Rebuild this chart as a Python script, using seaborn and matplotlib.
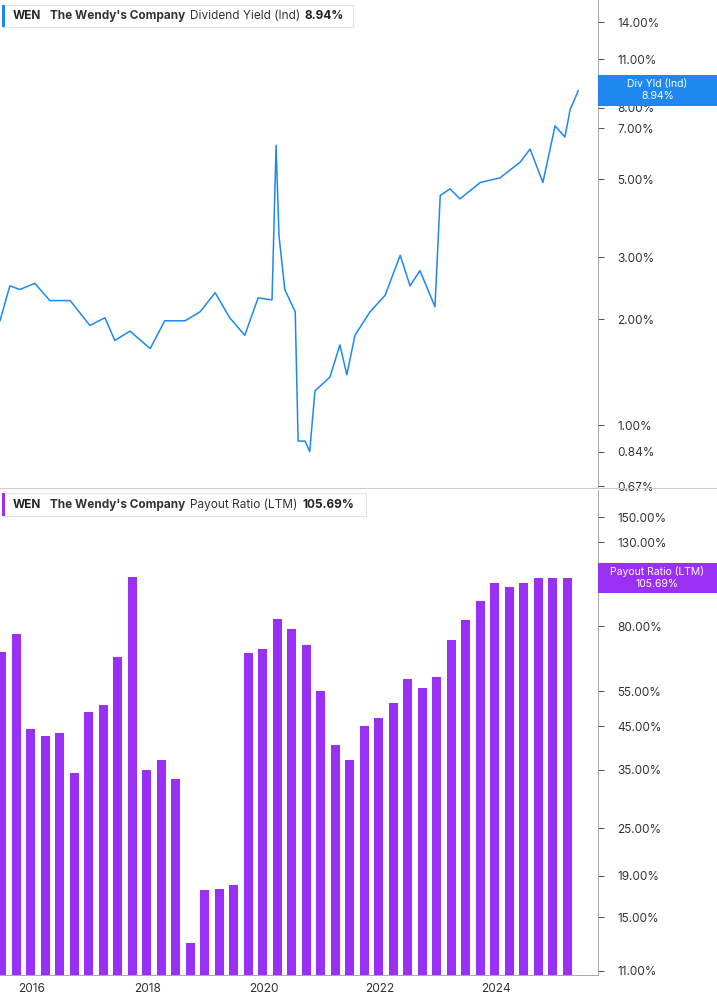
import matplotlib.pyplot as plt
import numpy as np
import pandas as pd
import seaborn as sns
import matplotlib as mpl
mpl.rcParams['font.family'] = 'Inter'

# dividend yield (%), dates as decimal years
yld_year = [2015.45, 2015.62, 2015.79, 2016.05, 2016.31, 2016.66, 2017.00, 2017.26, 2017.43,
            2017.69, 2018.04, 2018.29, 2018.64, 2018.90, 2019.16, 2019.41, 2019.67, 2019.90,
            2020.14, 2020.21, 2020.26, 2020.36, 2020.54, 2020.59, 2020.71, 2020.79, 2020.88,
            2021.14, 2021.31, 2021.43, 2021.57, 2021.83, 2022.09, 2022.35, 2022.52, 2022.69,
            2022.95, 2023.04, 2023.21, 2023.38, 2023.73, 2024.07, 2024.42, 2024.59, 2024.81,
            2025.02, 2025.19, 2025.28, 2025.42]
yld_val = [1.98, 2.49, 2.43, 2.53, 2.26, 2.26, 1.92, 2.02, 1.74,
           1.85, 1.65, 1.98, 1.98, 2.10, 2.38, 2.02, 1.80, 2.30,
           2.27, 6.25, 3.46, 2.43, 2.10, 0.90, 0.90, 0.84, 1.25,
           1.37, 1.69, 1.39, 1.80, 2.10, 2.34, 3.04, 2.49, 2.75,
           2.17, 4.50, 4.70, 4.40, 4.90, 5.05, 5.60, 6.10, 4.90,
           7.10, 6.60, 7.90, 8.94]

# payout ratio (LTM, %) quarterly
pay_year = [2015.48 + 0.25 * i for i in range(40)]
pay_val = [68.9, 76.5, 44.3, 42.5, 43.3, 34.2, 48.8, 50.9, 67.0, 106.0,
           34.9, 37.0, 33.2, 12.8, 17.4, 17.5, 17.9, 68.6, 70.2, 83.4,
           78.7, 71.8, 55.1, 40.2, 37.0, 45.0, 47.2, 51.4, 59.0, 56.0,
           59.7, 73.9, 82.9, 92.5, 102.6, 100.2, 102.6, 105.5, 105.3, 105.69]

top_ticks = [0.67, 0.84, 1.00, 2.00, 3.00, 5.00, 7.00, 8.00, 11.00, 14.00]
bot_ticks = [11, 15, 19, 25, 35, 45, 55, 80, 130, 150]
x_ticks = [2016, 2018, 2020, 2022, 2024]

blue = '#1E88F0'
purple = '#9B30F5'

fig = plt.figure(figsize=(7.17, 10.05), dpi=100)
ax1 = fig.add_axes([0, 0.514, 0.834, 0.486])
ax2 = fig.add_axes([0, 0.030, 0.834, 0.482])

yld = pd.DataFrame({'year': yld_year, 'val': yld_val})
sns.lineplot(data=yld, x='year', y='val', ax=ax1, color=blue, lw=1.1)
ax1.set_yscale('log')
ax1.set_ylim(0.66, 16.2)

pay = pd.DataFrame({'year': pay_year, 'val': pay_val})
ax2.bar(pay['year'], pay['val'], width=0.155, color=purple, bottom=0.1)
sns.despine(ax=ax2)
ax2.set_yscale('log')
ax2.set_ylim(10.75, 175)

for ax, ticks in [(ax1, top_ticks), (ax2, bot_ticks)]:
    ax.set_xlim(2015.45, 2025.76)
    ax.yaxis.tick_right()
    ax.set_yticks(ticks)
    ax.set_yticklabels([f'{t:.2f}%' for t in ticks])
    ax.yaxis.set_minor_locator(mpl.ticker.NullLocator())
    ax.tick_params(axis='y', labelsize=8.5, colors='#333333', length=4, width=0.6, pad=10)
    ax.set_xlabel('')
    ax.set_ylabel('')
    for s in ['top', 'left', 'bottom']:
        ax.spines[s].set_visible(False)
    ax.spines['right'].set_visible(True)
    ax.spines['right'].set_color('#999999')
    ax.spines['right'].set_linewidth(0.6)

ax1.set_xticks([])
ax2.set_xticks(x_ticks)
ax2.set_xticklabels([str(t) for t in x_ticks])
ax2.tick_params(axis='x', labelsize=8.5, colors='#333333', length=0, pad=6)
ax2.spines['bottom'].set_visible(True)
ax2.spines['bottom'].set_color('#999999')
ax2.spines['bottom'].set_linewidth(0.6)

# divider between panels
fig.add_artist(plt.Line2D([0, 1], [0.5145, 0.5145], color='#cccccc', lw=0.8))

# legends
def legend_box(y, color, name, value, vx, w):
    fig.add_artist(mpl.patches.Rectangle((0.003, y - 0.011), w, 0.022, transform=fig.transFigure,
                                         facecolor='white', edgecolor='#dddddd', lw=0.6))
    fig.add_artist(mpl.patches.Rectangle((0.003, y - 0.011), 0.004, 0.022, transform=fig.transFigure,
                                         facecolor=color, edgecolor='none'))
    fig.text(0.018, y, 'WEN', fontsize=8.5, fontweight='bold', va='center', color='#222222')
    fig.text(0.07, y, "The Wendy's Company", fontsize=8.5, fontweight='bold', va='center', color='#333333')
    fig.text(0.265, y, name, fontsize=8.5, va='center', color='#333333')
    fig.text(vx, y, value, fontsize=8.5, fontweight='bold', va='center', color='#222222')

legend_box(0.984, blue, 'Dividend Yield (Ind)', '8.94%', 0.425, 0.49)
legend_box(0.498, purple, 'Payout Ratio (LTM)', '105.69%', 0.422, 0.507)

# right-side value badges
for y, color, l1, l2 in [(0.910, blue, 'Div Yld (Ind)', '8.94%'),
                         (0.425, purple, 'Payout Ratio (LTM)', '105.69%')]:
    fig.add_artist(mpl.patches.Rectangle((0.834, y - 0.015), 0.166, 0.030, transform=fig.transFigure,
                                         facecolor=color, edgecolor='none'))
    fig.text(0.917, y + 0.006, l1, fontsize=7.5, color='white', ha='center', va='center')
    fig.text(0.917, y - 0.006, l2, fontsize=7.5, color='white', ha='center', va='center')

fig.savefig('out.png', dpi=100)
